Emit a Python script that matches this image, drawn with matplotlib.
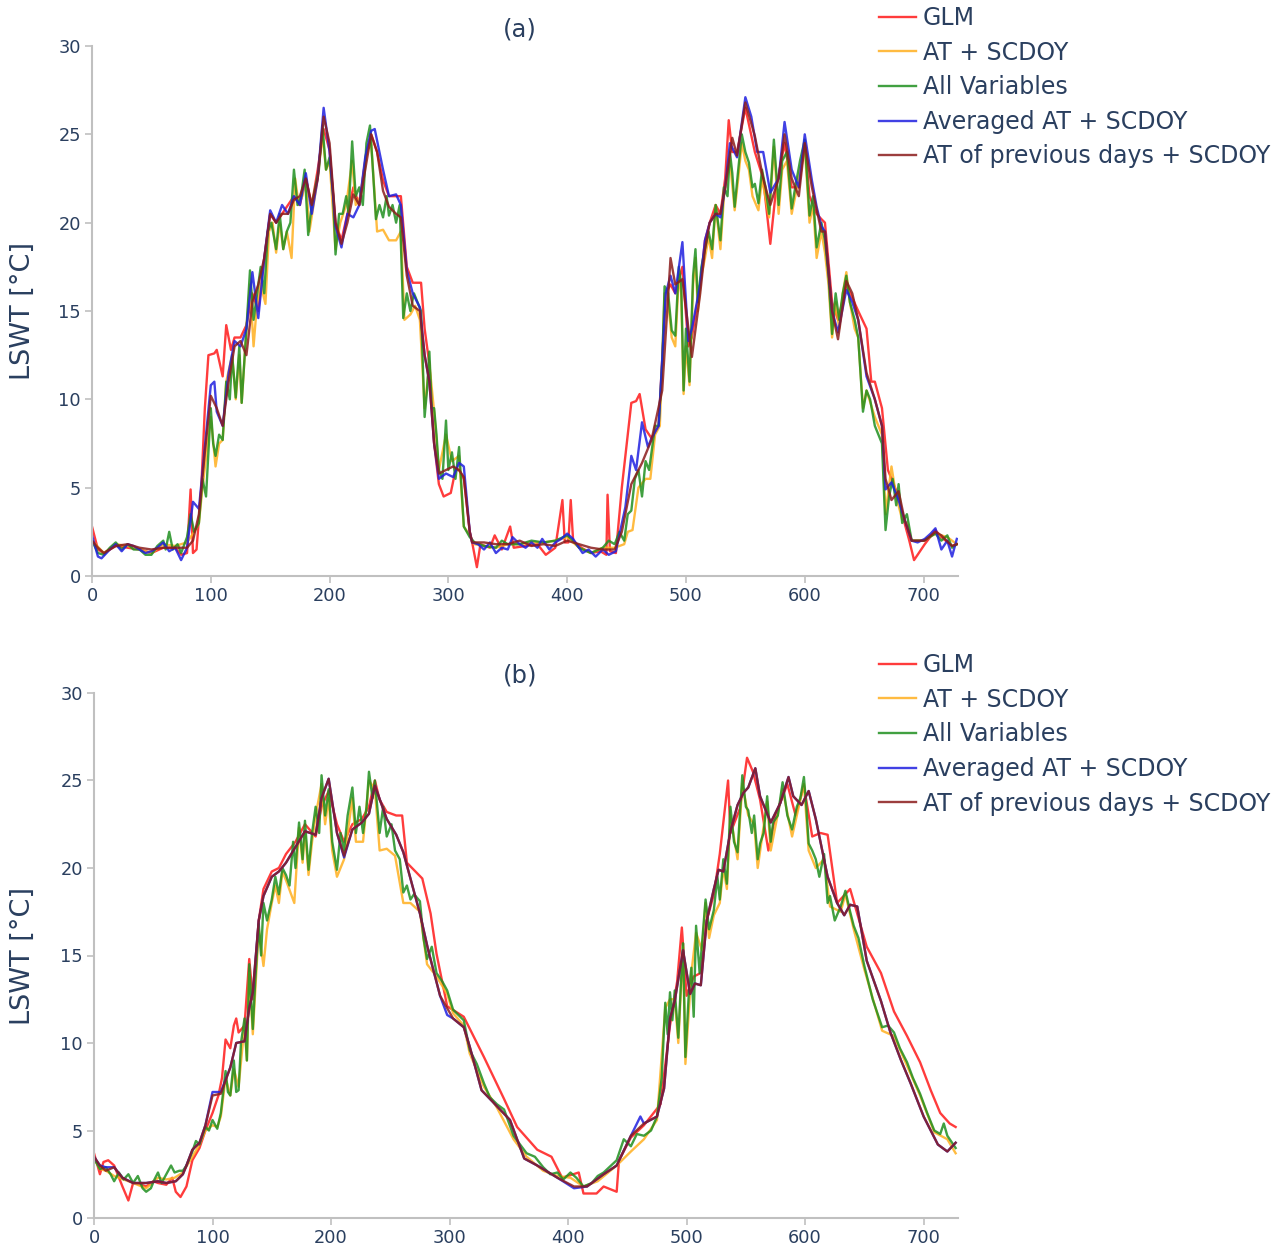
import matplotlib
matplotlib.use("Agg")
import matplotlib.pyplot as plt

plt.rcParams['font.family'] = ['DejaVu Sans']

names = ['GLM', 'AT + SCDOY', 'All Variables', 'Averaged AT + SCDOY',
         'AT of previous days + SCDOY']
colors = ['#ff1a1a', '#ffb020', '#1f8f1f', '#1f1fe0', '#8b1c1c']

# ---------- panel (a) ----------
a_glm_d = [0, 5, 10, 20, 30, 40, 50, 60, 70, 75, 80, 83, 85, 88, 92, 95, 98, 103, 105, 110, 113, 117, 120, 125, 130, 135, 140, 145, 150, 155, 160, 165, 170, 175, 180, 185, 190, 195, 200, 205, 210, 215, 220, 225, 230, 235, 240, 245, 250, 256, 260, 265, 270, 277, 280, 284, 288, 292, 296, 302, 306, 309, 313, 318, 320, 324, 327, 335, 339, 345, 352, 355, 365, 375, 382, 390, 396, 398, 401, 403, 405, 412, 420, 428, 433, 434, 436, 441, 446, 451, 454, 458, 461, 466, 471, 477, 483, 487, 491, 497, 502, 505, 512, 516, 520, 525, 529, 533, 536, 539, 543, 550, 558, 565, 571, 576, 583, 589, 595, 600, 604, 610, 614, 617, 623, 628, 635, 645, 652, 656, 659, 665, 670, 673, 679, 684, 688, 692, 698, 701, 710, 715, 724, 728]
a_glm_v = [2.8, 1.5, 1.3, 1.7, 1.6, 1.5, 1.3, 1.6, 1.6, 1.2, 1.3, 4.9, 1.3, 1.5, 5.0, 9.5, 12.5, 12.6, 12.8, 11.3, 14.2, 12.8, 13.5, 13.5, 14.2, 16.0, 15.0, 18.0, 20.5, 20.0, 20.5, 21.0, 21.5, 21.0, 22.5, 21.0, 23.0, 25.3, 24.1, 20.0, 19.0, 20.5, 22.0, 21.0, 23.5, 25.0, 24.0, 22.4, 21.5, 21.5, 21.5, 17.5, 16.6, 16.6, 14.0, 12.0, 7.5, 5.2, 4.5, 4.7, 6.0, 6.0, 5.5, 2.5, 1.9, 0.5, 1.8, 1.6, 2.3, 1.5, 2.8, 1.6, 1.7, 1.8, 1.2, 1.6, 4.3, 1.9, 1.9, 4.3, 2.0, 1.6, 1.3, 1.4, 1.2, 4.6, 1.4, 1.3, 5.0, 8.0, 9.8, 9.9, 10.3, 8.3, 7.8, 8.5, 16.0, 16.5, 16.0, 17.5, 13.0, 13.5, 16.5, 19.0, 20.0, 21.0, 20.5, 22.5, 25.8, 24.0, 24.0, 26.5, 24.0, 22.5, 18.8, 22.0, 24.5, 22.0, 22.0, 24.5, 21.5, 20.5, 20.2, 20.0, 15.5, 14.5, 16.5, 15.0, 14.0, 11.0, 11.0, 9.5, 6.0, 5.5, 4.5, 3.0, 2.0, 0.9, 1.5, 1.8, 2.6, 2.2, 1.7, 1.8]

a_at_d = [0, 10, 20, 30, 40, 50, 60, 70, 80, 86, 90, 93, 100, 104, 107, 110, 113, 118, 121, 124, 126, 130, 133, 136, 139, 142, 146, 149, 152, 155, 158, 161, 164, 168, 171, 174, 177, 180, 183, 186, 190, 194, 197, 200, 205, 209, 214, 219, 222, 226, 231, 235, 240, 245, 250, 256, 260, 263, 268, 272, 276, 280, 284, 288, 292, 298, 303, 309, 313, 318, 322, 330, 340, 350, 360, 370, 380, 390, 400, 410, 420, 430, 440, 448, 451, 455, 460, 466, 470, 474, 478, 482, 485, 488, 491, 494, 496, 498, 500, 503, 506, 508, 510, 513, 516, 519, 522, 525, 529, 532, 537, 541, 544, 547, 550, 553, 556, 561, 564, 570, 574, 578, 581, 585, 589, 592, 596, 600, 604, 607, 610, 614, 617, 620, 623, 626, 629, 632, 635, 638, 642, 645, 649, 652, 659, 665, 668, 673, 677, 682, 686, 690, 700, 710, 720, 728]
a_at_v = [2.0, 1.3, 1.8, 1.7, 1.5, 1.3, 1.8, 1.7, 1.9, 2.5, 3.0, 5.0, 9.0, 6.2, 7.5, 7.7, 11.0, 12.5, 10.0, 12.5, 9.8, 14.0, 16.5, 13.0, 15.5, 16.5, 15.4, 19.5, 20.0, 18.3, 20.0, 18.5, 19.5, 18.0, 22.5, 21.0, 21.5, 22.5, 19.5, 20.8, 22.5, 25.0, 23.0, 23.5, 18.5, 20.0, 21.0, 23.5, 21.0, 21.5, 24.0, 24.5, 19.5, 19.6, 19.0, 19.0, 19.5, 14.5, 14.8, 15.3, 14.5, 9.5, 12.0, 9.3, 6.0, 8.0, 6.5, 6.8, 2.8, 2.3, 1.8, 1.7, 1.6, 1.8, 1.8, 1.9, 1.9, 2.0, 2.2, 1.6, 1.3, 1.6, 1.6, 1.8, 2.5, 2.6, 5.0, 5.5, 5.5, 8.0, 8.5, 16.0, 15.5, 13.5, 13.0, 17.0, 16.0, 10.3, 13.0, 10.8, 16.5, 18.0, 15.0, 17.0, 18.0, 19.2, 18.0, 21.0, 18.5, 21.5, 23.5, 20.7, 22.5, 24.5, 23.5, 23.0, 21.5, 20.7, 22.5, 20.3, 24.3, 20.5, 23.0, 23.5, 20.5, 21.5, 23.0, 24.3, 20.0, 21.0, 18.0, 19.5, 18.3, 16.5, 13.5, 15.5, 14.0, 16.0, 17.2, 15.5, 14.0, 13.5, 9.5, 10.5, 9.0, 8.0, 3.5, 6.2, 4.5, 3.2, 3.0, 2.0, 2.0, 2.4, 2.2, 1.8]

a_all_d = [0, 5, 10, 15, 20, 25, 30, 35, 40, 45, 50, 55, 60, 62, 65, 68, 72, 75, 80, 83, 86, 90, 93, 96, 100, 102, 104, 107, 110, 113, 116, 118, 121, 124, 126, 130, 133, 136, 139, 142, 145, 148, 151, 155, 158, 161, 164, 167, 170, 173, 176, 179, 182, 185, 188, 191, 194, 197, 200, 203, 205, 208, 211, 214, 216, 219, 222, 225, 228, 231, 234, 236, 239, 242, 245, 248, 250, 253, 256, 259, 262, 265, 268, 271, 274, 277, 280, 282, 284, 286, 288, 290, 292, 295, 298, 300, 303, 306, 309, 311, 313, 318, 322, 330, 340, 345, 350, 360, 370, 380, 390, 400, 405, 410, 420, 430, 435, 440, 444, 448, 451, 454, 457, 460, 463, 466, 469, 472, 474, 477, 480, 482, 485, 488, 491, 494, 496, 498, 500, 503, 506, 508, 510, 513, 516, 519, 522, 525, 529, 532, 535, 537, 539, 541, 544, 547, 550, 553, 556, 558, 561, 564, 567, 570, 574, 578, 581, 585, 589, 592, 596, 600, 604, 607, 610, 614, 617, 620, 623, 626, 629, 632, 635, 638, 642, 645, 649, 652, 655, 659, 662, 665, 668, 671, 674, 677, 679, 682, 686, 690, 700, 710, 715, 720, 724, 728]
a_all_v = [2.0, 1.3, 1.2, 1.6, 1.9, 1.5, 1.8, 1.5, 1.5, 1.2, 1.2, 1.7, 2.0, 1.5, 2.5, 1.5, 1.8, 1.3, 2.2, 3.5, 2.5, 3.0, 5.5, 4.5, 9.5, 7.5, 6.8, 8.0, 7.7, 11.0, 10.0, 12.5, 10.1, 13.0, 9.8, 14.0, 17.3, 14.5, 16.0, 17.5, 16.0, 19.5, 20.0, 18.5, 20.5, 18.5, 19.5, 20.0, 23.0, 21.0, 21.5, 23.0, 19.3, 21.0, 22.0, 23.0, 25.5, 23.0, 23.7, 21.5, 18.2, 20.5, 20.5, 21.5, 20.5, 24.6, 21.5, 22.0, 21.0, 24.5, 25.5, 23.5, 20.2, 21.0, 20.3, 21.5, 20.4, 21.0, 20.0, 21.0, 14.6, 16.0, 15.0, 16.0, 15.5, 15.0, 9.0, 10.5, 12.7, 9.5, 9.5, 8.0, 6.0, 5.5, 8.8, 6.0, 7.0, 5.5, 7.3, 5.0, 2.8, 2.2, 1.9, 1.7, 1.6, 2.0, 1.8, 1.8, 2.0, 1.9, 2.0, 2.3, 2.0, 1.6, 1.3, 1.6, 2.0, 1.8, 2.5, 2.0, 3.5, 3.7, 5.5, 6.0, 4.5, 6.5, 6.0, 7.5, 8.5, 8.5, 12.0, 16.4, 16.0, 13.9, 13.6, 17.5, 16.5, 10.5, 14.0, 11.0, 17.0, 18.5, 15.5, 17.5, 18.5, 19.5, 18.5, 21.0, 19.0, 22.0, 21.5, 24.0, 22.8, 20.9, 23.0, 25.0, 24.0, 23.4, 22.0, 22.2, 21.1, 23.0, 22.0, 20.5, 24.7, 21.0, 23.5, 24.0, 20.8, 22.0, 23.5, 24.7, 20.4, 21.5, 18.6, 20.0, 19.0, 17.0, 13.7, 16.0, 14.5, 16.0, 17.0, 15.5, 14.5, 13.5, 9.3, 10.5, 10.0, 8.5, 8.0, 7.5, 2.6, 4.5, 5.5, 4.0, 5.2, 3.0, 3.5, 2.0, 2.0, 2.4, 2.0, 2.3, 1.6, 1.8]

a_avg_d = [0, 5, 8, 15, 20, 25, 30, 35, 40, 45, 50, 55, 60, 65, 70, 75, 80, 85, 90, 95, 100, 103, 105, 110, 115, 120, 125, 130, 135, 140, 145, 150, 155, 160, 165, 170, 175, 180, 185, 190, 195, 200, 205, 210, 215, 220, 225, 230, 235, 238, 245, 250, 256, 260, 265, 270, 276, 280, 284, 288, 292, 298, 304, 309, 313, 318, 320, 325, 330, 335, 340, 345, 350, 354, 360, 365, 370, 375, 379, 385, 390, 395, 400, 405, 410, 413, 418, 424, 430, 435, 441, 449, 454, 458, 463, 468, 471, 477, 483, 487, 491, 497, 502, 505, 512, 516, 520, 525, 529, 533, 537, 543, 550, 555, 560, 565, 571, 578, 583, 589, 595, 600, 606, 610, 614, 617, 623, 628, 635, 640, 645, 652, 659, 665, 668, 673, 679, 684, 690, 695, 701, 706, 710, 715, 720, 724, 728]
a_avg_v = [2.3, 1.1, 1.0, 1.5, 1.8, 1.4, 1.8, 1.7, 1.5, 1.3, 1.4, 1.6, 1.9, 1.4, 1.6, 0.9, 1.6, 4.2, 3.8, 7.3, 10.8, 11.0, 9.3, 8.5, 11.5, 13.3, 13.0, 14.0, 17.2, 14.6, 18.0, 20.7, 20.0, 21.0, 20.5, 21.5, 21.0, 22.8, 20.5, 22.5, 26.5, 24.0, 19.8, 18.6, 20.5, 20.3, 21.0, 23.7, 25.2, 25.3, 23.0, 21.5, 21.6, 21.0, 17.3, 16.0, 15.2, 12.5, 11.0, 7.5, 5.5, 5.8, 5.6, 6.4, 6.2, 2.5, 1.9, 1.8, 1.5, 1.9, 1.3, 1.6, 1.5, 2.2, 1.8, 1.6, 1.9, 1.6, 2.1, 1.5, 1.9, 2.1, 2.4, 2.1, 1.6, 1.3, 1.5, 1.1, 1.5, 1.2, 1.4, 3.9, 6.8, 6.0, 8.7, 7.3, 7.8, 8.5, 16.0, 17.0, 16.0, 18.9, 13.3, 14.0, 16.5, 19.0, 20.0, 20.5, 20.3, 22.0, 24.5, 23.7, 27.1, 26.0, 24.0, 24.0, 21.7, 22.5, 25.7, 23.0, 22.0, 25.0, 22.4, 20.9, 19.8, 19.5, 15.0, 13.8, 16.2, 15.5, 14.5, 11.3, 10.0, 8.5, 4.9, 5.3, 4.3, 3.2, 2.0, 1.9, 2.1, 2.4, 2.7, 1.5, 2.0, 1.1, 2.1]

a_prev_d = [0, 5, 10, 20, 30, 40, 50, 60, 70, 80, 85, 90, 95, 100, 105, 110, 115, 120, 125, 130, 135, 140, 145, 150, 155, 160, 165, 170, 175, 180, 185, 190, 195, 200, 205, 210, 215, 220, 225, 230, 235, 240, 245, 250, 256, 260, 265, 270, 276, 280, 284, 288, 292, 298, 304, 309, 313, 318, 320, 330, 340, 350, 360, 370, 380, 390, 400, 410, 420, 430, 440, 446, 454, 463, 471, 480, 487, 491, 497, 505, 512, 516, 520, 525, 529, 533, 539, 543, 550, 558, 565, 571, 578, 583, 589, 595, 600, 606, 614, 617, 623, 628, 635, 640, 645, 652, 659, 665, 668, 673, 679, 684, 690, 701, 710, 715, 724, 728]
a_prev_v = [2.0, 1.6, 1.3, 1.7, 1.8, 1.6, 1.5, 1.6, 1.6, 1.6, 2.0, 3.5, 7.0, 10.2, 9.5, 8.5, 11.0, 13.0, 13.3, 12.5, 15.5, 16.5, 18.0, 20.5, 20.0, 20.5, 20.5, 21.3, 21.5, 22.5, 21.0, 22.5, 26.0, 24.5, 20.0, 18.8, 20.0, 21.6, 21.0, 23.0, 25.0, 24.0, 21.8, 20.9, 20.5, 20.3, 17.0, 15.3, 15.0, 12.5, 11.0, 7.5, 5.8, 6.0, 6.2, 6.0, 5.6, 2.5, 1.9, 1.9, 1.8, 1.8, 2.0, 1.7, 1.8, 1.7, 2.0, 1.8, 1.6, 1.5, 1.5, 2.5, 5.2, 6.4, 7.7, 10.5, 18.0, 16.5, 16.8, 12.4, 16.0, 18.5, 20.0, 20.5, 20.5, 22.0, 24.8, 23.8, 26.8, 24.9, 22.5, 21.0, 22.5, 25.0, 22.5, 21.5, 24.5, 22.0, 19.5, 19.5, 15.0, 13.4, 16.7, 16.0, 14.5, 11.5, 10.0, 8.5, 5.5, 4.3, 4.8, 3.2, 2.0, 2.0, 2.5, 2.3, 1.7, 1.8]

# ---------- panel (b) ----------
b_glm_d = [0, 3, 5, 8, 12, 17, 24, 29, 33, 40, 44, 50, 54, 61, 66, 69, 73, 78, 83, 89, 94, 100, 105, 108, 111, 115, 118, 120, 122, 127, 131, 134, 139, 143, 150, 156, 162, 170, 178, 187, 192, 198, 205, 211, 218, 226, 232, 237, 241, 247, 255, 260, 264, 277, 284, 289, 298, 312, 329, 346, 357, 374, 386, 395, 409, 413, 424, 430, 441, 443, 453, 464, 478, 486, 492, 496, 500, 506, 512, 517, 523, 528, 535, 537, 545, 551, 556, 562, 569, 575, 585, 592, 599, 606, 613, 619, 627, 638, 652, 664, 675, 686, 697, 706, 714, 722, 727]
b_glm_v = [3.7, 3.0, 2.5, 3.2, 3.3, 3.0, 1.8, 1.0, 2.0, 1.9, 1.8, 2.1, 2.0, 1.9, 2.3, 1.5, 1.2, 1.8, 3.3, 4.0, 5.0, 6.0, 7.0, 8.0, 10.2, 9.7, 11.0, 11.4, 10.6, 11.0, 14.8, 12.5, 17.0, 18.8, 19.8, 20.0, 20.8, 21.5, 22.5, 21.8, 23.5, 24.4, 22.5, 21.5, 22.5, 22.8, 23.5, 25.0, 23.9, 23.2, 23.0, 23.0, 20.3, 19.4, 17.4, 15.1, 12.1, 11.5, 9.2, 6.8, 5.2, 3.9, 3.5, 2.3, 2.6, 1.4, 1.4, 1.8, 1.5, 3.3, 4.6, 5.3, 6.5, 11.0, 13.5, 16.6, 12.7, 13.8, 14.0, 17.0, 18.5, 20.8, 25.0, 22.0, 23.4, 26.3, 25.5, 23.9, 21.0, 23.0, 24.8, 23.0, 24.7, 21.8, 22.0, 21.9, 18.0, 18.8, 15.5, 14.0, 11.8, 10.4, 8.9, 7.3, 6.0, 5.4, 5.2]

b_at_d = [0, 5, 10, 17, 25, 33, 44, 54, 61, 68, 75, 83, 89, 94, 100, 104, 107, 111, 115, 118, 122, 127, 129, 131, 134, 139, 143, 146, 150, 153, 156, 159, 162, 169, 173, 176, 178, 181, 184, 187, 192, 195, 198, 201, 205, 211, 218, 221, 227, 232, 237, 241, 247, 254, 261, 267, 275, 281, 289, 298, 303, 312, 317, 329, 340, 354, 365, 379, 391, 402, 413, 425, 441, 453, 464, 475, 482, 486, 490, 493, 497, 499, 504, 508, 513, 516, 519, 523, 528, 531, 534, 537, 543, 547, 552, 557, 560, 568, 571, 581, 589, 599, 603, 609, 616, 621, 630, 634, 641, 650, 665, 675, 686, 697, 709, 720, 727]
b_at_v = [3.4, 2.8, 2.7, 2.4, 2.2, 2.0, 1.7, 2.3, 2.2, 2.3, 2.6, 3.5, 4.2, 5.0, 5.3, 5.2, 5.8, 8.0, 7.0, 8.5, 7.5, 11.0, 9.0, 14.0, 10.5, 16.5, 14.4, 16.5, 18.0, 19.0, 18.0, 19.8, 19.3, 18.0, 22.3, 20.3, 22.2, 19.6, 21.5, 23.0, 24.8, 22.5, 24.0, 21.0, 19.5, 20.5, 24.0, 21.5, 21.5, 25.0, 24.5, 21.0, 21.1, 20.7, 18.0, 18.0, 17.5, 14.5, 13.8, 12.8, 11.7, 11.0, 9.4, 7.5, 6.3, 4.5, 3.5, 2.7, 2.4, 2.3, 1.8, 2.1, 3.0, 3.8, 4.5, 5.6, 12.0, 12.5, 12.5, 10.0, 15.5, 8.8, 14.0, 16.3, 15.3, 18.0, 16.0, 17.3, 18.0, 20.0, 18.8, 23.0, 20.5, 24.8, 23.0, 22.5, 20.0, 23.8, 21.0, 24.5, 21.8, 24.8, 21.0, 20.0, 20.5, 17.8, 17.5, 18.5, 16.5, 14.2, 10.7, 10.4, 8.7, 7.0, 4.9, 4.5, 3.7]

b_all_d = [0, 5, 10, 14, 17, 21, 25, 29, 33, 37, 41, 44, 48, 51, 54, 57, 61, 65, 68, 72, 75, 78, 83, 86, 89, 94, 97, 100, 104, 107, 111, 113, 115, 118, 120, 122, 124, 127, 129, 131, 134, 136, 139, 141, 143, 146, 150, 153, 156, 159, 162, 165, 168, 170, 173, 176, 178, 181, 184, 187, 190, 192, 195, 198, 201, 205, 208, 211, 214, 218, 221, 224, 227, 230, 232, 235, 237, 241, 244, 247, 251, 254, 258, 261, 264, 267, 270, 275, 278, 281, 285, 289, 294, 298, 303, 312, 317, 323, 329, 334, 340, 346, 354, 365, 372, 379, 385, 391, 396, 402, 407, 413, 420, 425, 430, 441, 447, 453, 458, 464, 470, 475, 479, 482, 484, 486, 488, 490, 493, 496, 497, 499, 502, 504, 506, 508, 511, 513, 516, 519, 523, 526, 528, 531, 534, 537, 540, 543, 547, 550, 552, 555, 557, 560, 562, 565, 568, 571, 573, 577, 581, 585, 589, 593, 596, 599, 601, 603, 606, 609, 612, 616, 619, 621, 625, 630, 634, 638, 641, 645, 650, 657, 665, 670, 675, 680, 686, 691, 697, 703, 709, 714, 717, 720, 724, 727]
b_all_v = [3.4, 2.8, 2.9, 2.5, 2.1, 2.6, 2.2, 2.5, 2.0, 2.4, 1.7, 1.5, 1.7, 2.2, 2.6, 2.0, 2.5, 3.0, 2.6, 2.7, 2.7, 3.0, 3.8, 4.4, 4.2, 5.2, 5.0, 5.6, 5.1, 6.0, 8.4, 7.2, 7.0, 9.0, 7.2, 7.3, 10.0, 11.4, 9.0, 14.5, 10.8, 13.5, 16.8, 15.0, 18.0, 17.0, 18.2, 19.5, 18.5, 20.0, 19.6, 19.0, 21.5, 20.0, 22.6, 20.5, 22.7, 19.9, 22.0, 23.5, 22.0, 25.3, 23.0, 24.5, 21.5, 19.9, 22.0, 21.0, 23.0, 24.6, 22.0, 23.5, 22.0, 23.5, 25.5, 24.0, 25.0, 22.0, 23.5, 21.8, 22.5, 21.0, 20.5, 18.6, 19.0, 18.2, 18.5, 18.1, 16.0, 14.8, 15.5, 14.0, 13.5, 13.0, 11.9, 11.3, 9.6, 8.8, 7.7, 6.9, 6.5, 6.2, 4.7, 3.7, 3.5, 2.9, 2.5, 2.6, 2.2, 2.6, 2.3, 1.8, 2.0, 2.4, 2.6, 3.3, 4.5, 4.1, 4.8, 4.7, 5.0, 5.8, 8.0, 12.3, 10.5, 12.9, 11.3, 13.0, 10.3, 14.5, 15.7, 9.2, 13.0, 14.3, 11.5, 16.7, 14.0, 15.7, 18.2, 16.5, 17.6, 19.5, 18.2, 20.5, 19.1, 23.5, 21.5, 20.9, 25.3, 23.5, 23.3, 22.0, 23.0, 20.5, 21.4, 22.0, 24.1, 21.5, 22.6, 23.0, 24.9, 23.0, 22.2, 23.5, 24.0, 25.2, 23.5, 21.4, 21.0, 20.5, 19.5, 20.8, 18.0, 18.4, 17.0, 17.8, 18.7, 17.5, 16.7, 16.0, 14.4, 12.5, 10.9, 11.0, 10.6, 9.7, 8.9, 8.0, 7.1, 6.0, 5.0, 4.8, 5.4, 4.7, 4.3, 4.0]

b_avg_d = [0, 5, 10, 17, 24, 33, 44, 54, 61, 69, 75, 78, 83, 89, 94, 100, 107, 115, 120, 127, 131, 134, 139, 143, 150, 156, 162, 170, 178, 187, 192, 198, 205, 211, 218, 226, 232, 237, 247, 255, 261, 275, 282, 292, 298, 303, 312, 317, 327, 337, 351, 363, 374, 391, 405, 416, 430, 441, 453, 461, 464, 475, 481, 486, 490, 497, 503, 507, 512, 517, 523, 527, 531, 537, 543, 548, 552, 558, 562, 571, 579, 586, 590, 597, 603, 609, 619, 627, 633, 638, 644, 652, 664, 672, 681, 689, 700, 712, 720, 727]
b_avg_v = [3.5, 3.0, 2.9, 2.9, 2.3, 2.0, 2.0, 2.1, 2.0, 2.1, 2.5, 3.0, 3.9, 4.3, 5.3, 7.2, 7.2, 8.6, 10.0, 10.1, 12.0, 12.9, 17.0, 18.4, 19.5, 19.8, 20.3, 21.2, 22.1, 21.9, 24.0, 25.1, 22.0, 20.6, 22.2, 22.6, 23.1, 24.7, 22.8, 21.9, 20.9, 17.4, 15.3, 12.7, 11.6, 11.4, 10.9, 9.8, 7.3, 6.6, 5.6, 3.4, 3.0, 2.3, 1.7, 1.8, 2.5, 3.0, 4.7, 5.8, 5.4, 5.8, 7.4, 11.4, 12.4, 15.3, 12.8, 13.4, 13.3, 17.0, 18.8, 19.9, 19.8, 22.1, 23.6, 24.3, 24.6, 25.7, 24.1, 22.6, 23.7, 25.2, 24.1, 23.6, 24.4, 22.8, 19.5, 18.0, 17.3, 17.9, 17.8, 14.7, 12.4, 10.6, 9.0, 7.7, 5.8, 4.2, 3.8, 4.3]

b_prev_d = [0, 5, 10, 17, 24, 33, 44, 54, 61, 69, 75, 78, 83, 89, 94, 100, 107, 115, 120, 127, 131, 134, 139, 143, 150, 156, 162, 170, 178, 187, 192, 198, 205, 211, 218, 226, 232, 237, 247, 255, 261, 275, 282, 292, 303, 312, 317, 327, 337, 351, 363, 374, 391, 405, 416, 430, 441, 453, 464, 475, 481, 486, 490, 497, 503, 507, 512, 517, 523, 527, 531, 537, 543, 548, 552, 558, 562, 571, 579, 586, 590, 597, 603, 609, 619, 627, 633, 638, 644, 652, 664, 672, 681, 689, 700, 712, 720, 727]
b_prev_v = [3.5, 3.0, 2.7, 2.9, 2.3, 2.0, 2.0, 2.1, 2.0, 2.1, 2.5, 3.0, 3.9, 4.3, 5.3, 7.0, 7.1, 8.6, 10.0, 10.1, 12.0, 12.9, 17.0, 18.4, 19.5, 19.8, 20.3, 21.2, 22.1, 21.9, 24.0, 25.1, 22.0, 20.7, 22.2, 22.6, 23.1, 24.7, 22.8, 21.9, 20.9, 17.4, 15.3, 12.7, 11.4, 10.9, 9.8, 7.3, 6.6, 5.6, 3.4, 3.0, 2.3, 1.8, 1.8, 2.5, 3.0, 4.7, 5.4, 5.8, 7.4, 11.4, 12.4, 15.3, 12.8, 13.4, 13.3, 17.0, 18.8, 19.9, 19.8, 22.1, 23.6, 24.3, 24.6, 25.7, 24.1, 22.6, 23.7, 25.2, 24.1, 23.6, 24.4, 22.8, 19.5, 18.0, 17.3, 17.9, 17.8, 14.7, 12.4, 10.6, 9.0, 7.7, 5.8, 4.2, 3.8, 4.3]

panels = [
    ('(a)', [(a_glm_d, a_glm_v), (a_at_d, a_at_v), (a_all_d, a_all_v),
             (a_avg_d, a_avg_v), (a_prev_d, a_prev_v)]),
    ('(b)', [(b_glm_d, b_glm_v), (b_at_d, b_at_v), (b_all_d, b_all_v),
             (b_avg_d, b_avg_v), (b_prev_d, b_prev_v)]),
]

fig = plt.figure(figsize=(12.8, 12.54), dpi=100)
W, H = 1280, 1254
# pixel boxes of the two plot areas: left, top, right, bottom
boxes = [(92, 46, 958, 576), (94, 693, 958, 1218)]
legend_tops = [6, 653]
tick_col = '#2a3f5f'
axis_col = '#c0c0c0'

for (title, series), (l, t, r, b), lt in zip(panels, boxes, legend_tops):
    ax = fig.add_axes([l / W, 1 - b / H, (r - l) / W, (b - t) / H])
    for (d, v), name, c in zip(series, names, colors):
        ax.plot(d, v, color=c, lw=1.7, alpha=0.85, label=name)
    ax.set_xlim(0, 729)
    ax.set_ylim(0, 30)
    ax.set_xticks([0, 100, 200, 300, 400, 500, 600, 700])
    ax.set_yticks([0, 5, 10, 15, 20, 25, 30])
    for s in ['top', 'right']:
        ax.spines[s].set_visible(False)
    for s in ['left', 'bottom']:
        ax.spines[s].set_color(axis_col)
        ax.spines[s].set_linewidth(1.5)
    ax.tick_params(colors=axis_col, labelcolor=tick_col, labelsize=12.8,
                   length=5, width=1.2, pad=3)
    ax.set_ylabel('LSWT [°C]', fontsize=19.5, color=tick_col)
    ax.yaxis.set_label_coords((36 - l) / (r - l), 0.5)
    ax.text(520 / W, 1 - (t - 17) / H, title, transform=fig.transFigure,
            ha='center', va='center', fontsize=17.5, color=tick_col)
    ax.legend(loc='upper left', bbox_to_anchor=(879 / W, 1 - lt / H),
              bbox_transform=fig.transFigure, frameon=False, fontsize=17,
              handlelength=1.55, handletextpad=0.3, labelspacing=0.45,
              borderpad=0, borderaxespad=0, labelcolor=tick_col)

fig.savefig('out.png', dpi=100, facecolor='white')
